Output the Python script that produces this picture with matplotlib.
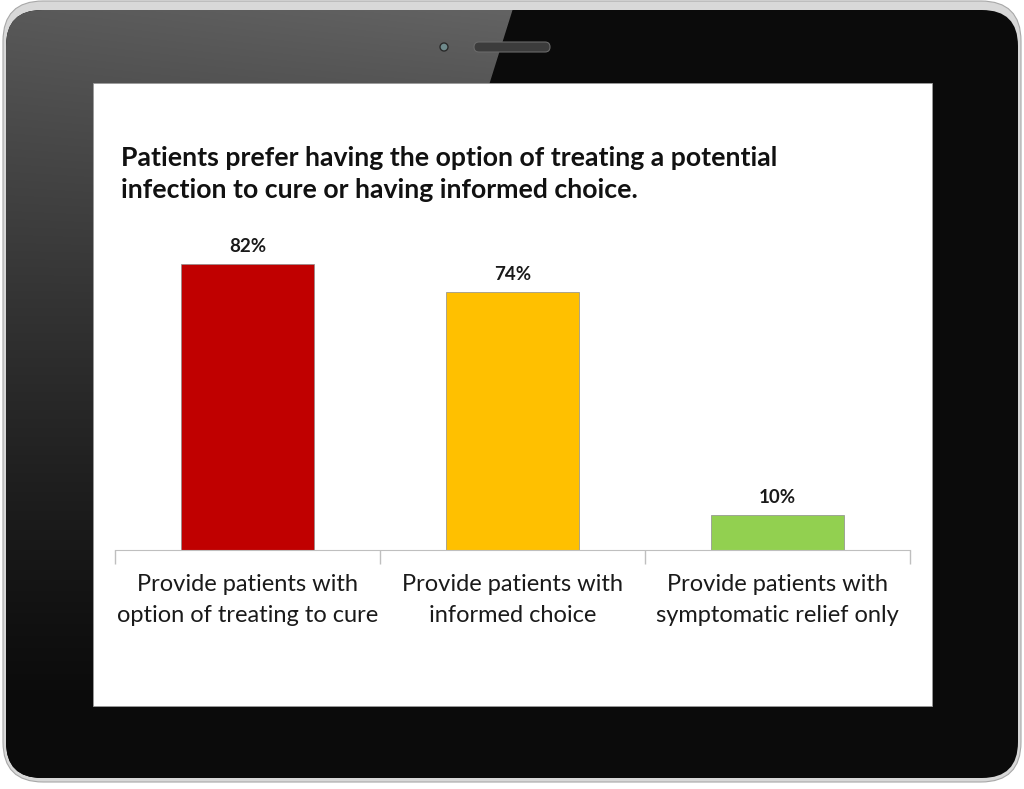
import numpy as np
import matplotlib.pyplot as plt
from matplotlib.patches import FancyBboxPatch, Rectangle, Circle

# chart data
categories = ['Provide patients with\noption of treating to cure',
              'Provide patients with\ninformed choice',
              'Provide patients with\nsymptomatic relief only']
values = [82, 74, 10]
value_labels = ['82%', '74%', '10%']
bar_colors = ['#C00000', '#FFC000', '#92D050']
title = ('Patients prefer having the option of treating a potential\n'
         'infection to cure or having informed choice.')

plt.rcParams['font.family'] = ['Lato', 'DejaVu Sans']

W, H = 1024, 789
fig = plt.figure(figsize=(10.24, 7.89), dpi=100)
fig.patch.set_facecolor('white')

# tablet frame drawn in pixel units
bg = fig.add_axes([0, 0, 1, 1], zorder=0)
bg.set_xlim(0, W)
bg.set_ylim(H, 0)
bg.axis('off')

rim = FancyBboxPatch((3, 1), 1018, 781, boxstyle='round,pad=0,rounding_size=40',
                     fc='#d8d8d8', ec='#a8a8a8', lw=0.8)
bg.add_patch(rim)
body = FancyBboxPatch((6, 10), 1012, 768, boxstyle='round,pad=0,rounding_size=36',
                      fc='#0b0b0b', ec='none')
bg.add_patch(body)

# glossy reflection on the left, fading downwards, cut off along a diagonal
py, px = np.mgrid[0:H, 0:W].astype(float)
g = 0.045 + 0.31 * np.clip(1 - py / 700, 0, 1) ** 1.2
g = g + 0.04 * (px / 515) * np.clip(1 - py / 300, 0, 1)
edge = 515 - (515 - 268) * py / H
alpha = np.clip(edge - px + 0.5, 0, 1)
img = np.dstack([g, g, g, alpha])
gl = bg.imshow(img, extent=(0, W, H, 0), zorder=2, interpolation='bilinear')
gl.set_clip_path(body)

# camera and speaker
bg.add_patch(Circle((444, 47), 4, fc='#6f8a8c', ec='#2a2a2a', lw=1, zorder=4))
bg.add_patch(FancyBboxPatch((474, 42), 76, 10, boxstyle='round,pad=0,rounding_size=5',
                            fc='#3c3c3c', ec='#6a6a6a', lw=0.8, zorder=4))

# screen
bg.add_patch(Rectangle((93, 83), 839, 623, fc='white', ec='#9a9a9a', lw=0.6, zorder=5))

# chart
ax = fig.add_axes([115 / W, 1 - 550 / H, 795 / W, 314 / H], zorder=2)
ax.set_facecolor('none')
x = np.arange(len(categories))
ax.bar(x, values, width=0.5, color=bar_colors, edgecolor='#8c8c8c', linewidth=0.5)
for xi, v, lab in zip(x, values, value_labels):
    ax.text(xi, v + 3.4, lab, ha='center', va='baseline', fontsize=13.5,
            fontweight='bold', color='#1a1a1a')

ax.set_xlim(-0.5, 2.5)
ax.set_ylim(0, 90)
ax.set_xticks(x)
ax.set_xticklabels(categories, fontsize=17, color='#1a1a1a', linespacing=1.6)
ax.set_xticks([-0.5, 0.5, 1.5, 2.5], minor=True)
ax.tick_params(axis='x', which='major', length=0, pad=17)
ax.tick_params(axis='x', which='minor', length=10, color='#bfbfbf', width=1)
ax.set_yticks([])
for s in ['top', 'right', 'left']:
    ax.spines[s].set_visible(False)
ax.spines['bottom'].set_color('#bfbfbf')

fig.text(121 / W, 1 - 146 / H, title, ha='left', va='top', fontsize=19.2,
         fontweight='bold', color='#111111', linespacing=1.4)

fig.savefig('out.png', dpi=100)
